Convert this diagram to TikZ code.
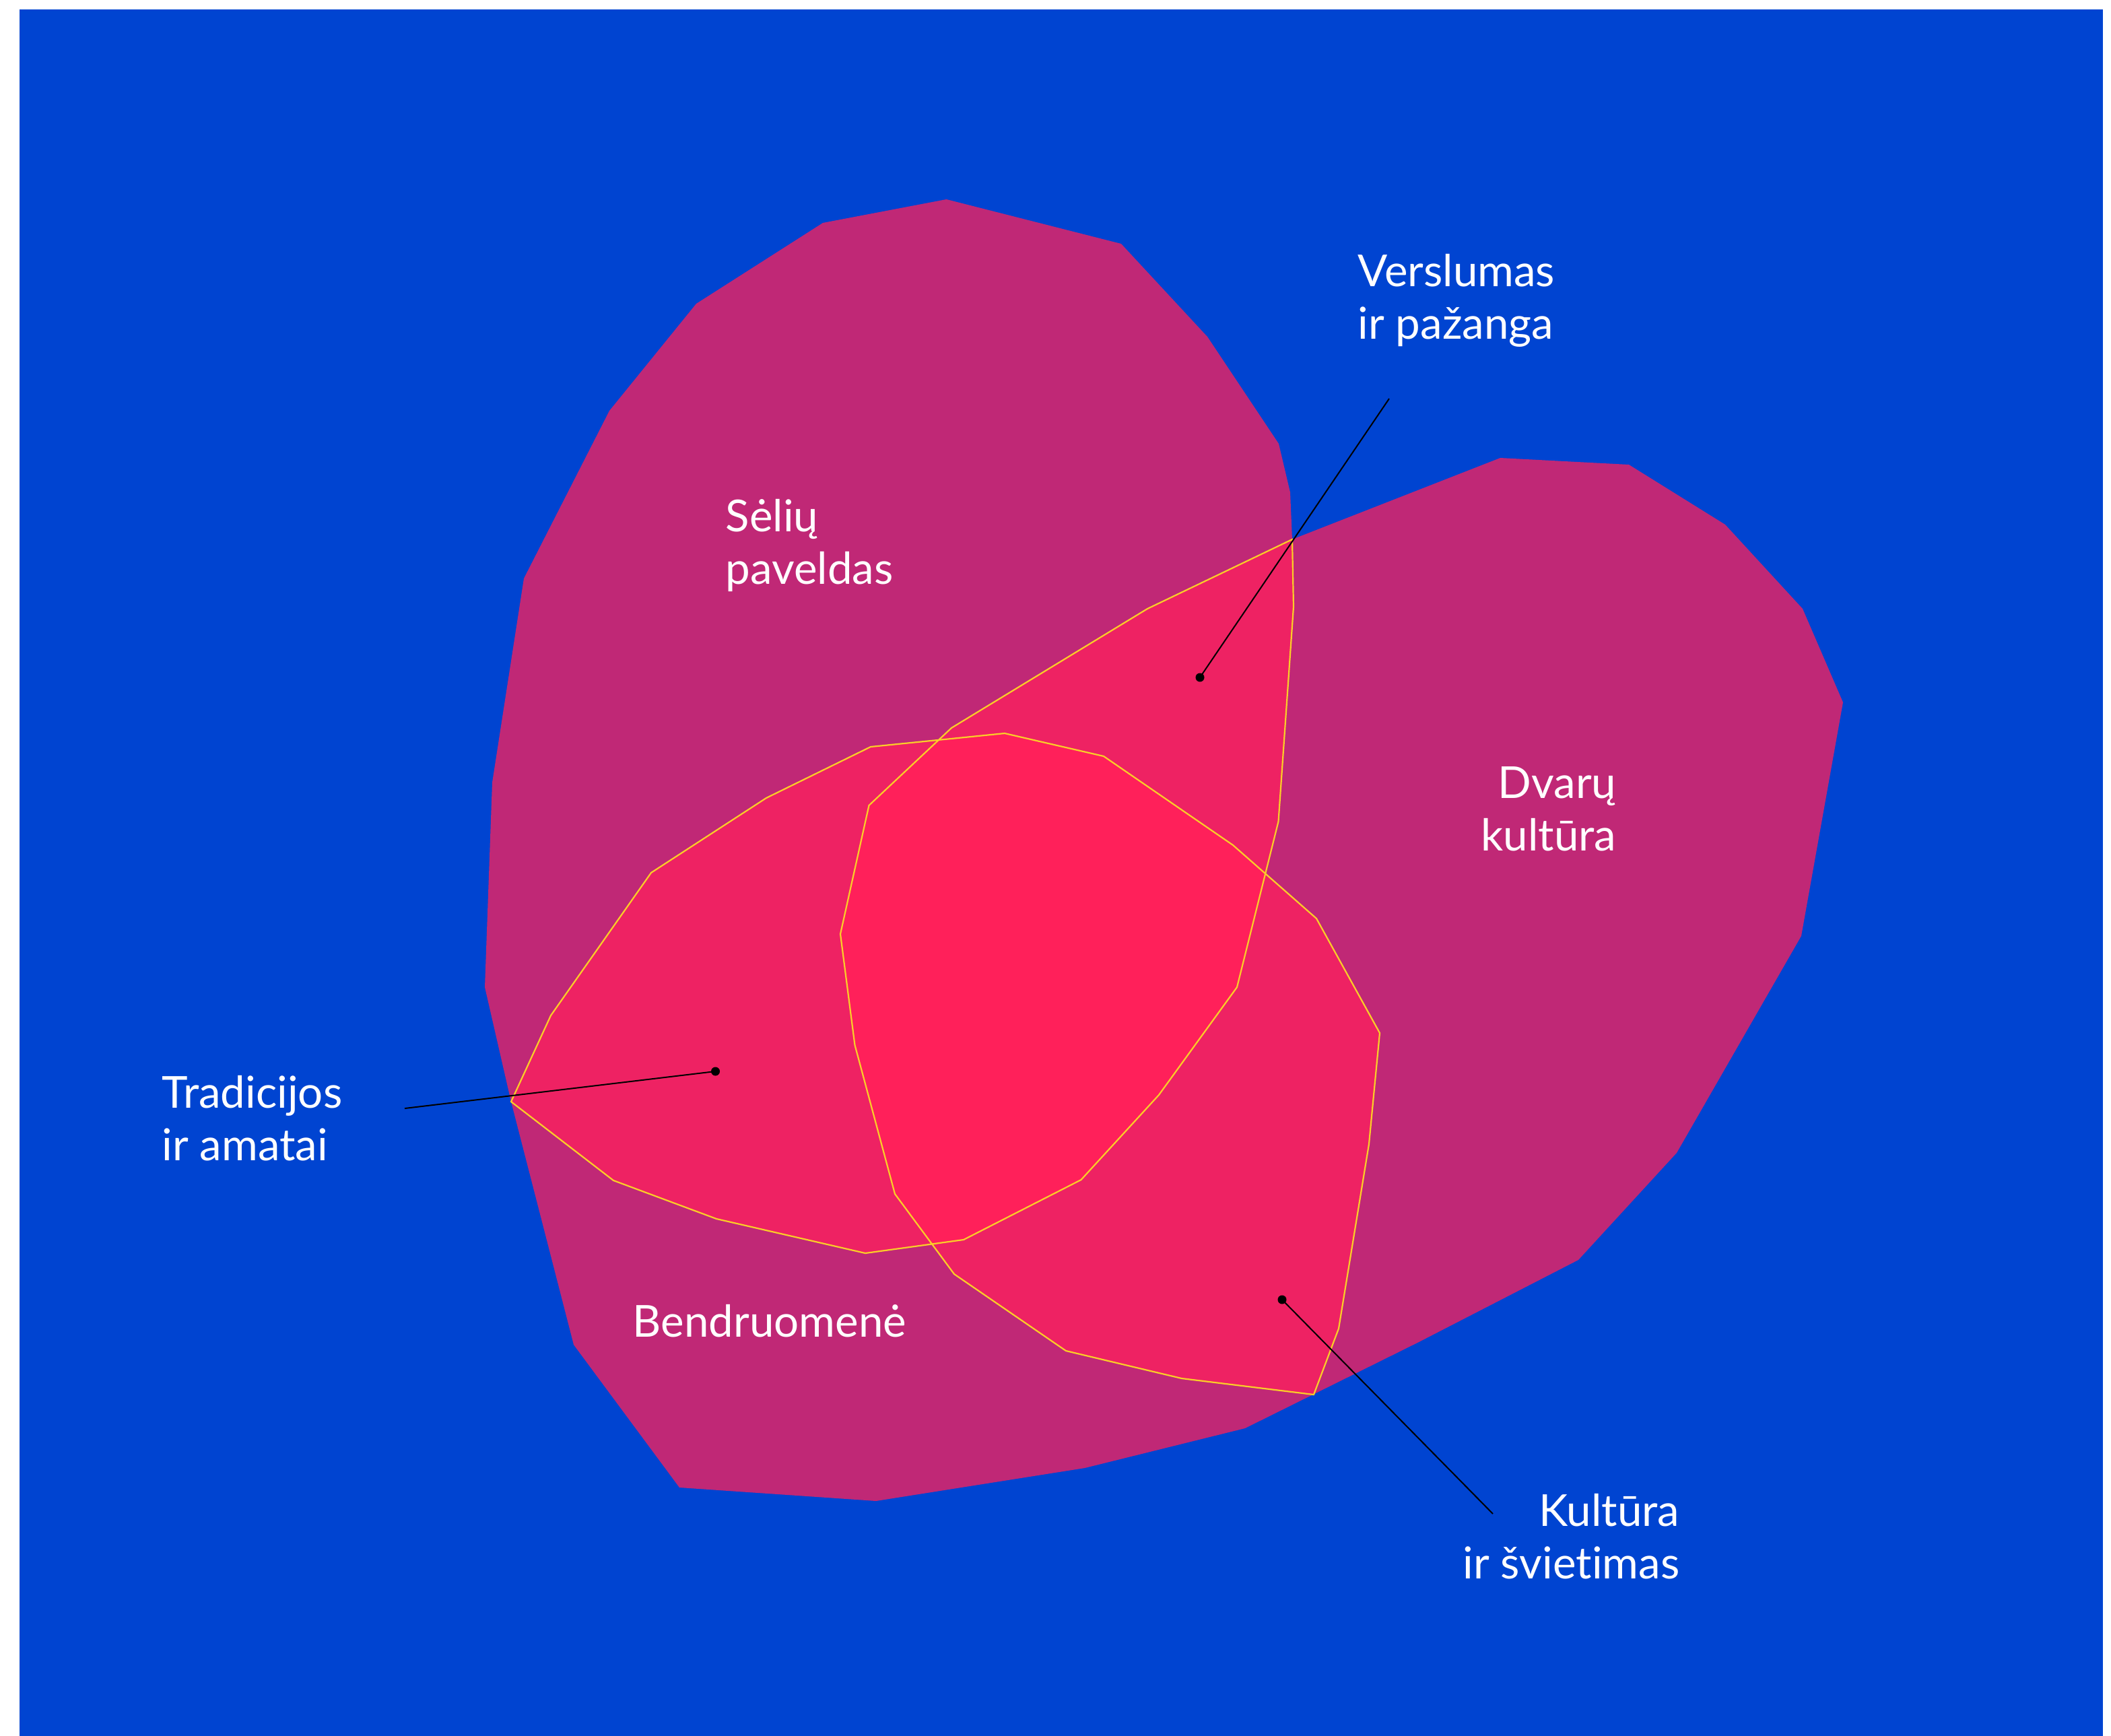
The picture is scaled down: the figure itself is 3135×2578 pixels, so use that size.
\documentclass[tikz,border=0pt]{standalone}
\usepackage{fontspec}
\setmainfont{Lato}[Ligatures={NoCommon}]
\definecolor{bg}{RGB}{0,68,209}
\definecolor{mag}{RGB}{192,40,118}
\definecolor{lobe}{RGB}{238,34,99}
\definecolor{core}{RGB}{255,32,90}
\definecolor{gold}{RGB}{250,205,40}
\begin{document}
\begin{tikzpicture}[x=0.01cm,y=-0.01cm,
  lbl/.style={text=white,inner sep=0pt,font=\fontsize{18.6pt}{22pt}\selectfont},
  dot/.style={circle,fill=black,inner sep=0pt,minimum size=0.13cm},
  leader/.style={draw=black,line width=0.02cm},
  outline/.style={draw=gold,line width=0.022cm,line join=miter}]
\useasboundingbox (0,0) rectangle (3135,2578);
\fill[white] (0,0) rectangle (3135,2578);
\fill[bg] (29,14) rectangle (3123,2578);
% union of the two magenta regions
\fill[mag] (1405.5,296) -- (1665,362) -- (1793,500) -- (1899,659) -- (1916,731) -- (1919,801)
  -- (2228,680) -- (2419,690) -- (2562,779) -- (2677,904) -- (2737,1043) -- (2675,1390)
  -- (2490,1712) -- (2344,1871) -- (2107,1993) -- (1849,2121) -- (1611,2180) -- (1301,2229)
  -- (1009,2209) -- (852,1997) -- (759,1636) -- (720,1466) -- (731,1162) -- (778,859)
  -- (905,610) -- (1034,451) -- (1222,331) -- cycle;
% three overlapping lobes drawn as one closed outline
\path[fill=core, postaction={fill=lobe, even odd rule}, postaction={outline}]
  (759,1636) -- (818,1508) -- (967,1296) -- (1138,1185) -- (1293,1109) -- (1492,1089)
  -- (1639,1123) -- (1831,1255) -- (1955,1364) -- (2049,1534) -- (2033,1699) -- (1988,1973)
  -- (1951,2071) -- (1755,2047) -- (1583,2006) -- (1417,1892) -- (1329,1773) -- (1269.5,1552)
  -- (1248,1387) -- (1290.5,1196) -- (1413,1081) -- (1704,904) -- (1919,801)
  -- (1921,901) -- (1898.5,1220) -- (1837,1466) -- (1721,1626) -- (1605.5,1752)
  -- (1431,1841) -- (1285,1861) -- (1064,1810) -- (911,1753) -- cycle;
% labels (base anchor = baseline of the last line)
\node[lbl, align=left, anchor=base west] (seliu) at (1077,867) {Sėlių\\paveldas};
\node[lbl, align=left, anchor=base west] (vers) at (2016,503) {Verslumas\\ir pažanga};
\node[lbl, align=right, anchor=base east] (dvaru) at (2401,1263) {Dvarų\\kultūra};
\node[lbl, align=left, anchor=base west] (trad) at (240,1723) {Tradicijos\\ir amatai};
\node[lbl, anchor=base west] (bendr) at (939,1985) {Bendruomenė};
\node[lbl, align=right, anchor=base east] (kult) at (2495,2344) {Kultūra\\ir švietimas};
% leader lines
\coordinate (versEnd) at (2063,592);
\coordinate (tradEnd) at (601,1646);
\coordinate (kultEnd) at (2217,2248);
\node[dot] (versDot) at (1782,1006) {};
\node[dot] (tradDot) at (1062.5,1591) {};
\node[dot] (kultDot) at (1904,1930) {};
\draw[leader] (versEnd) -- (versDot.center);
\draw[leader] (tradEnd) -- (tradDot.center);
\draw[leader] (kultEnd) -- (kultDot.center);
\end{tikzpicture}
\end{document}
